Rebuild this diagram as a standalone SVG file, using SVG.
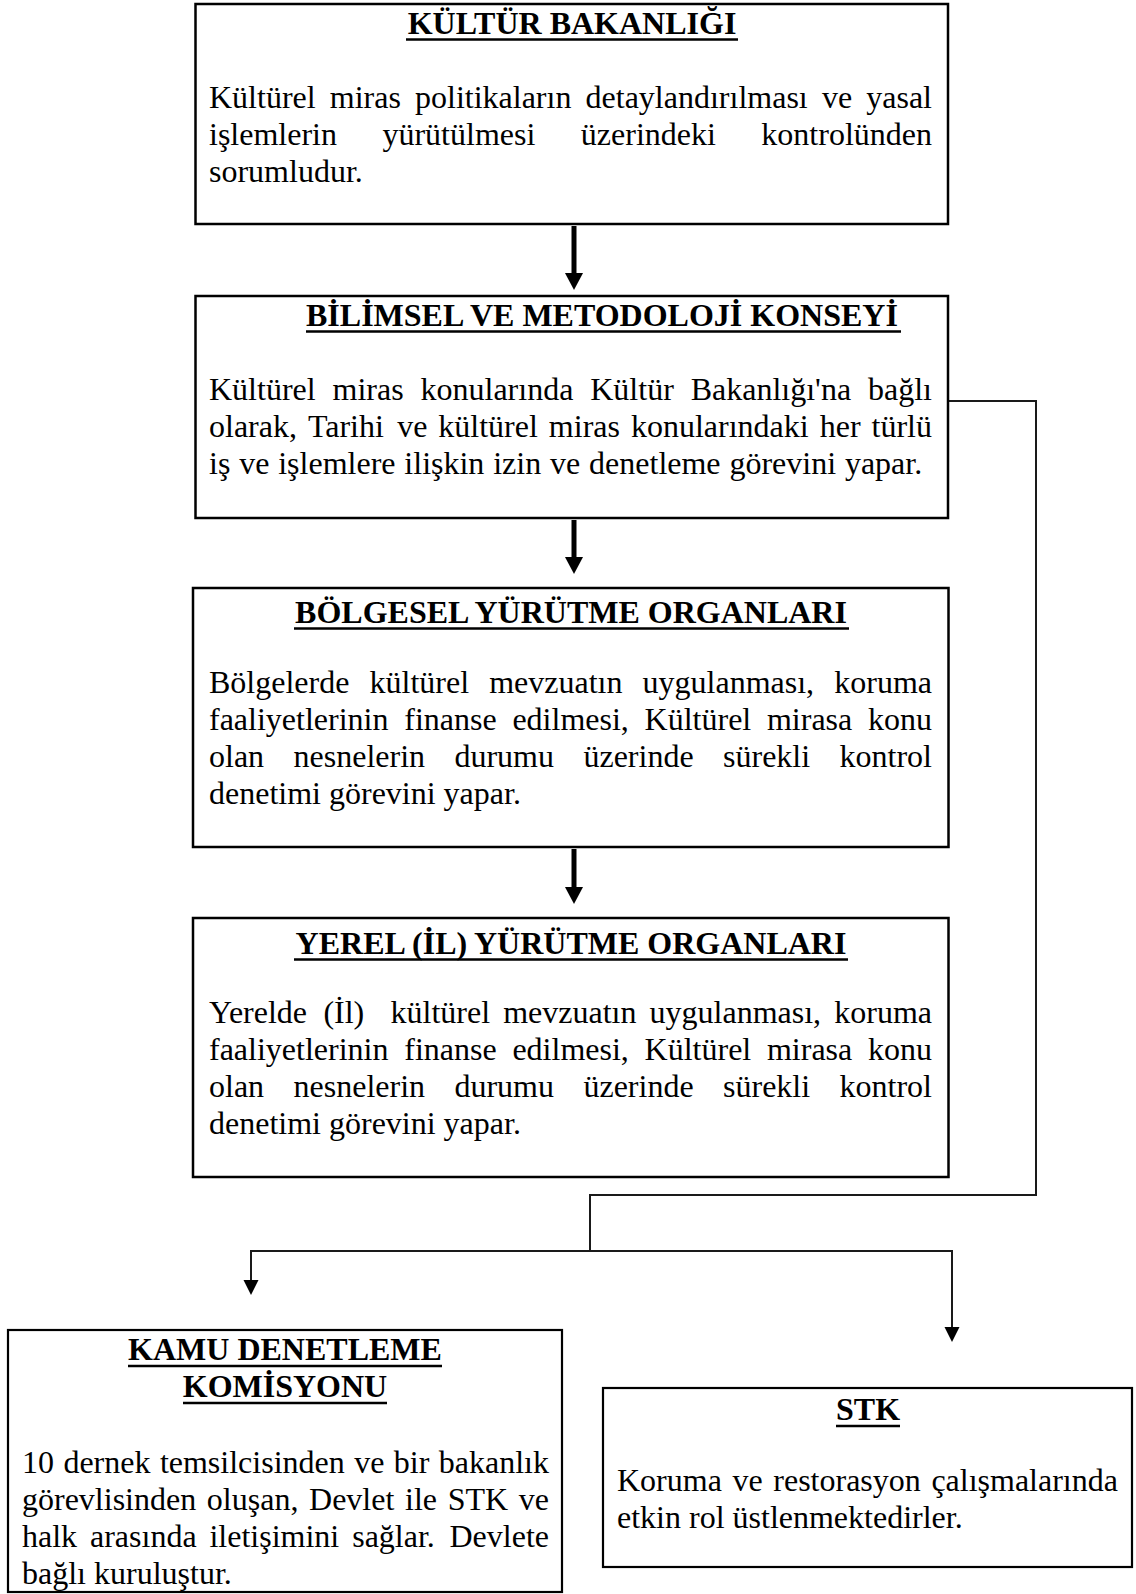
<svg xmlns="http://www.w3.org/2000/svg" width="1136" height="1594" viewBox="0 0 1136 1594">
<style>
  .box{fill:#fff;stroke:#000;stroke-width:2.5}
  .box2{fill:#fff;stroke:#000;stroke-width:2.2}
  .t{font-family:"Liberation Serif","Times New Roman",serif;font-size:32px;font-weight:bold;fill:#000}
  .b{font-family:"Liberation Serif","Times New Roman",serif;font-size:32px;fill:#000}
  .ul{stroke:#000;stroke-width:2.6}
  .thick{fill:none;stroke:#000;stroke-width:5}
  .thin{fill:none;stroke:#1a1a1a;stroke-width:2}
</style>
<defs>
  <marker id="bigHead" markerUnits="userSpaceOnUse" markerWidth="18" markerHeight="18" refX="7" refY="9" orient="auto">
    <path d="M0,0 L17,9 L0,18 Z" fill="#000"/>
  </marker>
  <marker id="smallHead" markerUnits="userSpaceOnUse" markerWidth="16" markerHeight="16" refX="5" refY="7.5" orient="auto">
    <path d="M0,0 L15,7.5 L0,15 Z" fill="#000"/>
  </marker>
</defs>
<rect x="0" y="0" width="1136" height="1594" fill="#fff"/>

<g id="connectors">
  <line class="thick" x1="574" y1="226" x2="574" y2="280" marker-end="url(#bigHead)"/>
  <line class="thick" x1="574" y1="520" x2="574" y2="564" marker-end="url(#bigHead)"/>
  <line class="thick" x1="574" y1="849" x2="574" y2="894" marker-end="url(#bigHead)"/>
  <path class="thin" d="M948,401 H1036 V1195 H590 V1251"/>
  <path class="thin" d="M590,1251 H251 V1285" marker-end="url(#smallHead)"/>
  <path class="thin" d="M590,1251 H952 V1332" marker-end="url(#smallHead)"/>
</g>

<g id="kultur-bakanligi">
  <rect class="box" x="195.5" y="4" width="752.5" height="220"/>
  <text class="t" x="572" y="34" text-anchor="middle">KÜLTÜR BAKANLIĞI</text>
  <line class="ul" x1="406" y1="39.5" x2="738" y2="39.5"/>
  <text class="b" y="108"><tspan x="209">Kültürel</tspan> <tspan x="329.78">miras</tspan> <tspan x="415">politikaların</tspan> <tspan x="585.57">detaylandırılması</tspan> <tspan x="821.9">ve</tspan> <tspan x="866.23">yasal</tspan></text>
  <text class="b" y="145"><tspan x="209">işlemlerin</tspan> <tspan x="382.46">yürütülmesi</tspan> <tspan x="580.82">üzerindeki</tspan> <tspan x="761.35">kontrolünden</tspan></text>
  <text class="b" x="209" y="182">sorumludur.</text>
</g>

<g id="bilimsel-konsey">
  <rect class="box" x="195.5" y="296" width="752.5" height="222"/>
  <text class="t" x="306" y="326">BİLİMSEL VE METODOLOJİ KONSEYİ</text>
  <line class="ul" x1="306" y1="331.5" x2="901" y2="331.5"/>
  <text class="b" y="400"><tspan x="209">Kültürel</tspan> <tspan x="332.54">miras</tspan> <tspan x="420.52">konularında</tspan> <tspan x="590.26">Kültür</tspan> <tspan x="690.69">Bakanlığı'na</tspan> <tspan x="867.99">bağlı</tspan></text>
  <text class="b" y="437"><tspan x="209">olarak,</tspan> <tspan x="307.95">Tarihi</tspan> <tspan x="397.14">ve</tspan> <tspan x="438.33">kültürel</tspan> <tspan x="548.86">miras</tspan> <tspan x="630.94">konularındaki</tspan> <tspan x="819.68">her</tspan> <tspan x="871.52">türlü</tspan></text>
  <text class="b" y="474"><tspan x="209">iş</tspan> <tspan x="239.17">ve</tspan> <tspan x="278.21">işlemlere</tspan> <tspan x="404.35">ilişkin</tspan> <tspan x="493.21">izin</tspan> <tspan x="550.04">ve</tspan> <tspan x="589.08">denetleme</tspan> <tspan x="729.43">görevini</tspan> <tspan x="844.92">yapar.</tspan></text>
</g>

<g id="bolgesel-yurutme">
  <rect class="box" x="193" y="588" width="755.5" height="259"/>
  <text class="t" x="571" y="623" text-anchor="middle">BÖLGESEL YÜRÜTME ORGANLARI</text>
  <line class="ul" x1="294" y1="628.5" x2="849" y2="628.5"/>
  <text class="b" y="693"><tspan x="209">Bölgelerde</tspan> <tspan x="369.52">kültürel</tspan> <tspan x="489.17">mevzuatın</tspan> <tspan x="642.58">uygulanması,</tspan> <tspan x="834.23">koruma</tspan></text>
  <text class="b" y="730"><tspan x="209">faaliyetlerinin</tspan> <tspan x="404.25">finanse</tspan> <tspan x="512.4">edilmesi,</tspan> <tspan x="644.58">Kültürel</tspan> <tspan x="766.97">mirasa</tspan> <tspan x="868.01">konu</tspan></text>
  <text class="b" y="767"><tspan x="209">olan</tspan> <tspan x="293.52">nesnelerin</tspan> <tspan x="454.46">durumu</tspan> <tspan x="583.43">üzerinde</tspan> <tspan x="723.03">sürekli</tspan> <tspan x="839.55">kontrol</tspan></text>
  <text class="b" x="209" y="804">denetimi görevini yapar.</text>
</g>

<g id="yerel-yurutme">
  <rect class="box" x="193" y="918" width="755.5" height="259"/>
  <text class="t" x="571" y="954" text-anchor="middle">YEREL (İL) YÜRÜTME ORGANLARI</text>
  <line class="ul" x1="294" y1="959.5" x2="848" y2="959.5"/>
  <text class="b" y="1023"><tspan x="209">Yerelde</tspan> <tspan x="323.4">(İl)</tspan>  <tspan x="390.49">kültürel</tspan> <tspan x="503.15">mevzuatın</tspan> <tspan x="649.58">uygulanması,</tspan> <tspan x="834.24">koruma</tspan></text>
  <text class="b" y="1060"><tspan x="209">faaliyetlerinin</tspan> <tspan x="404.25">finanse</tspan> <tspan x="512.4">edilmesi,</tspan> <tspan x="644.58">Kültürel</tspan> <tspan x="766.97">mirasa</tspan> <tspan x="868.01">konu</tspan></text>
  <text class="b" y="1097"><tspan x="209">olan</tspan> <tspan x="293.52">nesnelerin</tspan> <tspan x="454.46">durumu</tspan> <tspan x="583.43">üzerinde</tspan> <tspan x="723.03">sürekli</tspan> <tspan x="839.55">kontrol</tspan></text>
  <text class="b" x="209" y="1134">denetimi görevini yapar.</text>
</g>

<g id="kamu-denetleme">
  <rect class="box2" x="8" y="1330" width="554" height="262"/>
  <text class="t" x="285" y="1360" text-anchor="middle">KAMU DENETLEME</text>
  <line class="ul" x1="128" y1="1366" x2="442" y2="1366"/>
  <text class="t" x="285" y="1397" text-anchor="middle">KOMİSYONU</text>
  <line class="ul" x1="183" y1="1403" x2="387" y2="1403"/>
  <text class="b" y="1473"><tspan x="22">10</tspan> <tspan x="63.41">dernek</tspan> <tspan x="159.89">temsilcisinden</tspan> <tspan x="354.2">ve</tspan> <tspan x="393.82">bir</tspan> <tspan x="438.78">bakanlık</tspan></text>
  <text class="b" y="1510"><tspan x="22">görevlisinden</tspan> <tspan x="206.86">oluşan,</tspan> <tspan x="309.06">Devlet</tspan> <tspan x="405.02">ile</tspan> <tspan x="447.67">STK</tspan> <tspan x="518.77">ve</tspan></text>
  <text class="b" y="1547"><tspan x="22">halk</tspan> <tspan x="89.98">arasında</tspan> <tspan x="209.48">iletişimini</tspan> <tspan x="352.18">sağlar.</tspan> <tspan x="449.48">Devlete</tspan></text>
  <text class="b" x="22" y="1584">bağlı kuruluştur.</text>
</g>

<g id="stk">
  <rect class="box2" x="603" y="1388" width="529" height="179"/>
  <text class="t" x="868" y="1420" text-anchor="middle">STK</text>
  <line class="ul" x1="836" y1="1426" x2="900" y2="1426"/>
  <text class="b" y="1491"><tspan x="617">Koruma</tspan> <tspan x="732.46">ve</tspan> <tspan x="773.27">restorasyon</tspan> <tspan x="931.39">çalışmalarında</tspan></text>
  <text class="b" x="617" y="1528">etkin rol üstlenmektedirler.</text>
</g>
</svg>
